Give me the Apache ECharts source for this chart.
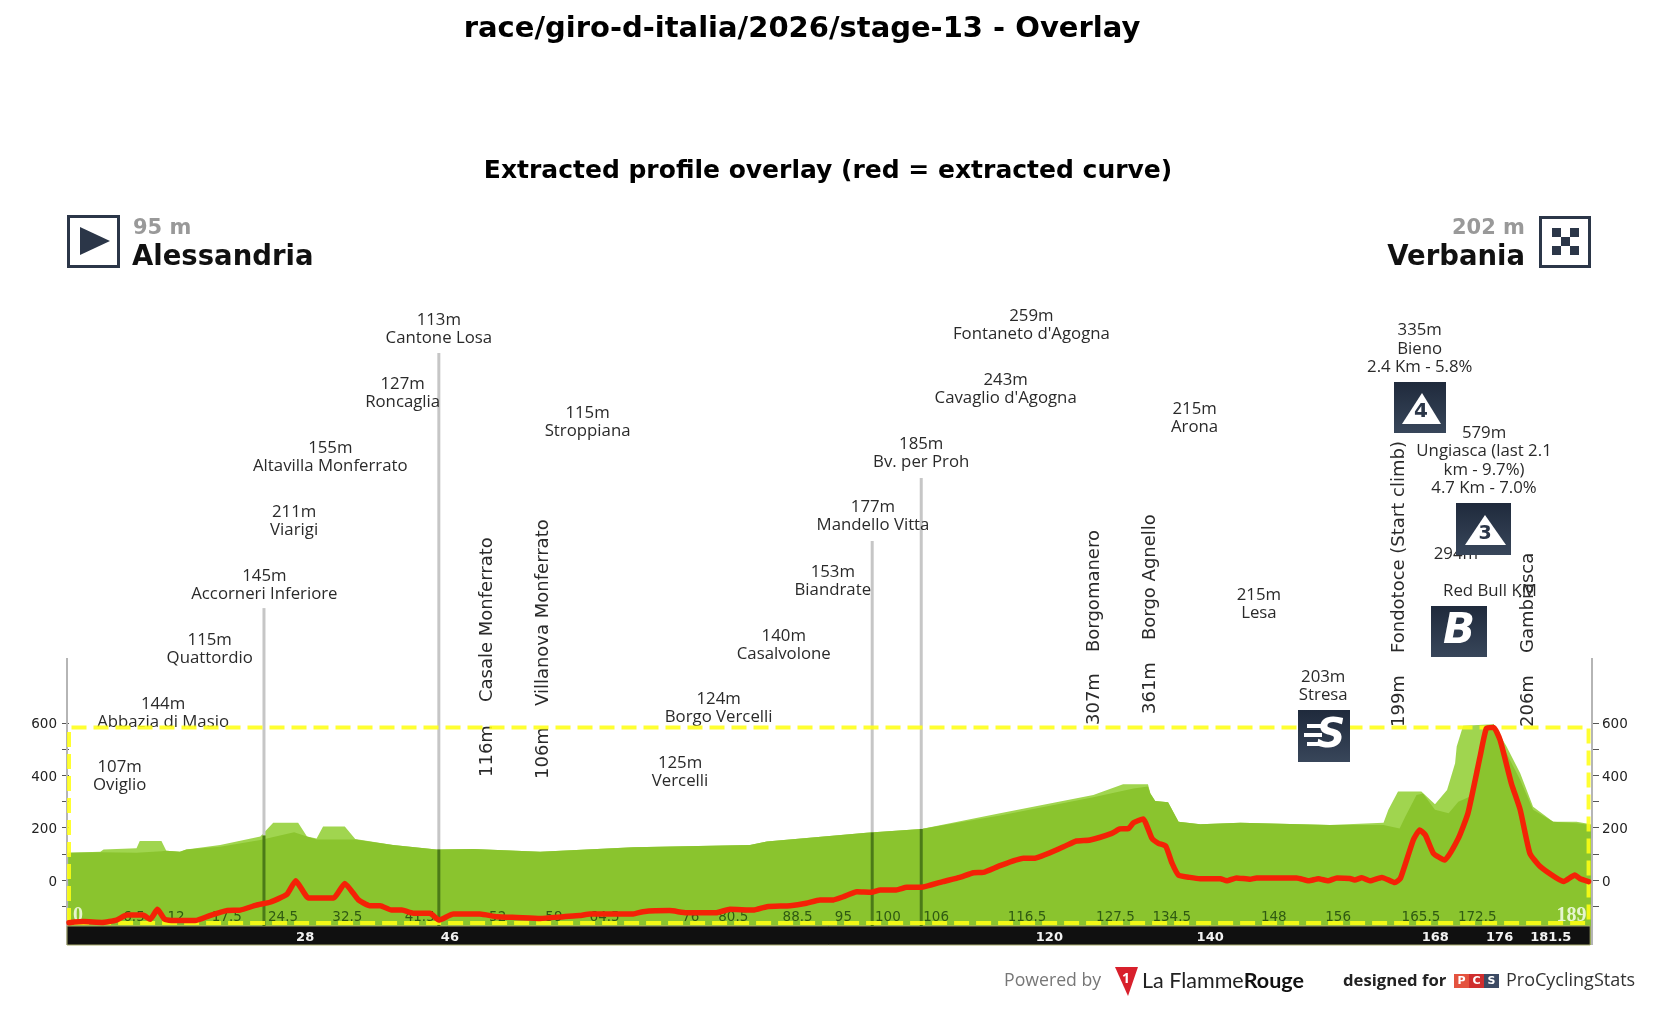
<!DOCTYPE html>
<html>
<head>
<meta charset="utf-8">
<title>Giro d'Italia 2026 stage 13 profile</title>
<style>html,body{margin:0;padding:0;background:#fff}#chart{width:1657px;height:1018px}</style>
<script src="https://cdn.jsdelivr.net/npm/echarts@6/dist/echarts.min.js"></script>
</head>
<body>
<div id="chart"></div>
<script>
// Extracted elevation curve: [km, metres]
const extractedCurve = [
[0,-163],[1.8,-159],[4.1,-162],[5.9,-153],[7.2,-134],[9.2,-134],[10.1,-150],[11,-112],[11.9,-150],[13,-155],
[15.7,-155],[17.5,-136],[19.6,-117],[21.3,-115],[23.3,-96],[25,-85],[27.1,-55],[28.2,-3],[29.8,-69],[32.9,-69],
[34.3,-13],[36,-76],[37.4,-98],[38.7,-98],[40.1,-115],[41.4,-115],[42.8,-127],[44.9,-127],[46,-153],[47.8,-130],
[51.1,-130],[53.2,-140],[55.7,-143],[58.6,-147],[61.5,-140],[63.5,-136],[64.8,-130],[70.2,-130],[71.4,-121],[74.7,-117],
[76.8,-125],[80.5,-125],[82.2,-112],[85.1,-115],[86.8,-102],[89.7,-98],[91.7,-89],[93.4,-76],[95.1,-76],[96.3,-64],
[98,-45],[99.8,-47],[100.9,-38],[102.9,-38],[104.2,-28],[106,-28],[108.7,-6],[110.8,10],[112.5,28],[113.7,29],
[115.8,55],[118.7,83],[120,83],[123.7,127],[125.3,149],[127,153],[129.7,178],[130.7,195],[131.8,197],[132.4,219],
[133.6,233],[134.7,159],[135.5,140],[136.4,130],[137.2,64],[138,19],[139.4,10],[140.7,5],[143.2,5],[144,-3],
[145.2,8],[146.9,3],[147.7,8],[152.7,8],[154.2,-3],[155.4,5],[156.6,-3],[157.7,8],[159.3,6],[159.9,0],
[160.8,9],[161.8,-3],[163.3,10],[164.9,-10],[165.6,6],[167.2,153],[168,191],[168.7,172],[169.7,102],[171.1,76],
[172.8,159],[174,255],[175.5,471],[176.3,580],[177.2,583],[178,535],[179.4,369],[180.5,268],[181.7,102],[183,51],
[185.9,-6],[187.3,19],[187.9,6],[189,-6]
];
// Road elevation with the climbs picked out in the lighter tone: [km, metres]
const climbProfile = [
[-0.1,104],[3.9,108],[4.3,117],[8.4,121],[8.8,149],[11.5,149],[12.1,112],[13.8,108],[14.6,117],[18.8,134],
[23.8,166],[25.4,219],[28.5,219],[29.6,166],[30.8,159],[31.6,204],[34.3,204],[35.6,157],[40.3,134],[45.7,117],
[50.3,118],[58.6,108],[70.2,125],[84.7,134],[86.8,147],[99.2,181],[106,195],[115.8,255],[127.4,325],[131.1,366],
[134.2,366],[134.5,331],[135.1,302],[136.7,297],[138,223],[140.7,213],[145.7,219],[156.8,210],[163.5,219],[164.1,268],
[165.3,338],[168.2,338],[169.9,289],[171.4,344],[172.4,446],[172.6,510],[173.4,589],[177.2,595],[178.8,510],[180.5,408],
[182.1,280],[184.6,223],[187.5,223],[189.3,213]
];
// Road elevation in the main green tone: [km, metres]
const baseProfile = [
[-0.1,104],[3.9,106],[8.4,104],[11.5,110],[12.1,112],[13.8,108],[14.6,117],[18.8,127],[23.8,153],[28,182],
[29.6,166],[30.8,155],[35.6,155],[40.3,134],[45.7,117],[50.3,118],[58.6,108],[70.2,125],[84.7,134],[86.8,147],
[99.2,181],[106,195],[115.8,246],[127.4,316],[132.4,350],[134.2,357],[134.5,331],[135.1,302],[136.7,297],[138,223],
[140.7,213],[145.7,219],[156.8,210],[163.5,210],[165.5,197],[166.2,242],[167.6,325],[168.4,331],[169.9,268],[171.6,255],
[172.8,299],[174.2,318],[175.5,497],[176.3,580],[177.2,595],[178.8,484],[180.5,382],[182.1,268],[184.6,223],[187.5,217],
[189.3,210]
];

// Named places with horizontal labels
const townNames = ['Oviglio','Abbazia di Masio','Quattordio','Accorneri Inferiore','Viarigi','Altavilla Monferrato','Roncaglia','Cantone Losa',
  'Stroppiana','Vercelli','Borgo Vercelli','Casalvolone','Biandrate','Mandello Vitta','Bv. per Proh',"Cavaglio d'Agogna","Fontaneto d'Agogna",
  'Arona','Lesa','Stresa','Bieno\n2.4 Km - 5.8%','Ungiasca (last 2.1\nkm - 9.7%)\n4.7 Km - 7.0%','\nRed Bull KM'];
const townElevations = [107,144,115,145,211,155,127,113,115,125,124,140,153,177,185,243,259,215,215,203,335,579,294];
const townKms = [6.3,11.7,17.5,24.3,28,32.5,41.5,46,64.5,76,80.8,88.9,95,100,106,116.5,119.7,140,148,156,168,176,172.5];

// Named places with rotated labels
const sideNames = ['Casale Monferrato','Villanova Monferrato','Borgomanero','Borgo Agnello','Fondotoce (Start climb)','Gambiasca'];
const sideElevations = [116,106,307,361,199,206];
const sideKms = [52,59,127.5,134.5,165.5,181.5];

// Distance markers
const sectorKms = [6.5,12,17.5,24.5,32.5,41.5,52,59,64.5,76,80.5,88.5,95,100,106,116.5,127.5,134.5,148,156,165.5,172.5];
const bandKms = [28,46,120,140,168,176,181.5];
const endKms = [0,189];

// Vertical stems: km, elevation at the road, elevation of the top end
const stemKms = [24.25,46,99.9,106];
const stemRoad = [170,117,182,195];
const stemTop = [1039,2014,1295,1536];

const yTickLabels = [0,200,400,600];
const yTickMarks = [-100,0,100,200,300,400,500,600];

// Layout of the label stacks, in page pixels (baseline row of each place)
const townLabelRowY = [785,722,658,594,530,466,402,338,431,781,717,654,590,525,462,398,334,427,613,695,367,488,591];
const townNameShiftX = {22:34};
const sideLabelY = [[777,702],[779,706],[725,652],[714,640],[727,653],[727,653]];

const PX_PER_M = 0.2617, PX_PER_KM = 8.04;
const GRID_L = 67, GRID_R = 1592, GROUND_Y = 880, GRID_B = 945;
const xMin = (GRID_L - 69) / PX_PER_KM, xMax = (GRID_R - 69) / PX_PER_KM;
const yMax = GROUND_Y / PX_PER_M, yMin = (GROUND_Y - GRID_B) / PX_PER_M;
const bandTop = (GROUND_Y - 926) / PX_PER_M;
const boxTop = 583, boxBottom = -164;

const NAVY = '#2b3648';
const LABEL_FONT = '16.8px "Open Sans"';
const SIDE_FONT = '18px "DejaVu Sans"';

const chart = echarts.init(document.getElementById('chart'));

function textEl(text, x, y, font, fill, align, rotation) {
  return {type:'text', x, y, rotation: rotation || 0,
    style:{text, x:0, y:0, font, fill, textAlign: align || 'center', textVerticalAlign:'middle'}};
}
function boxGradient() {
  return new echarts.graphic.LinearGradient(0,0,0,1,[{offset:0,color:'#1f2a3c'},{offset:1,color:'#38465a'}]);
}

const option = {
  animation:false,
  backgroundColor:'#ffffff',
  title:[
    {text:'race/giro-d-italia/2026/stage-13 - Overlay', left:797, top:10, textAlign:'center',
     textStyle:{fontFamily:'DejaVu Sans', fontWeight:'bold', fontSize:29, color:'#000'}},
    {text:'Extracted profile overlay (red = extracted curve)', left:823, top:154, textAlign:'center',
     textStyle:{fontFamily:'DejaVu Sans', fontWeight:'bold', fontSize:25, color:'#000'}}
  ],
  grid:{left:GRID_L, top:0, width:GRID_R-GRID_L, height:GRID_B},
  xAxis:{type:'value', min:xMin, max:xMax, show:false},
  yAxis:[0,1].map(i => ({
    type:'value', min:yMin, max:yMax, position:i?'right':'left', splitLine:{show:false},
    axisLine:{show:false},
    axisTick:{show:true, length:7, customValues:yTickMarks, lineStyle:{color:'#555',width:1}},
    axisLabel:{show:true, customValues:yTickLabels, margin:10, formatter:v => '{a|' + v + '}',
      rich:{a:{color:'#222', fontFamily:'DejaVu Sans', fontSize:13.5, padding:[4,0,0,0]}}}
  })),
  series:[
    {type:'line', name:'Climbs', data:climbProfile, showSymbol:false, silent:true, z:1, clip:false,
     lineStyle:{width:0}, areaStyle:{origin:'start', color:'#a0d54f', opacity:1}},
    {type:'line', name:'Road', data:baseProfile, showSymbol:false, silent:true, z:2, clip:false,
     lineStyle:{width:0}, areaStyle:{origin:'start', color:'#8ac42e', opacity:1}},
    // Axis rails on both sides of the profile
    {type:'line', data:[[xMin,(GROUND_Y-658)/PX_PER_M],[xMin,yMin]], showSymbol:false, silent:true, z:3, clip:false,
     lineStyle:{color:'#b5b5b5', width:2}},
    {type:'line', data:[[xMax,(GROUND_Y-658)/PX_PER_M],[xMax,yMin]], showSymbol:false, silent:true, z:3, clip:false,
     lineStyle:{color:'#b5b5b5', width:2}},
    // Black distance band
    {type:'custom', z:4, silent:true, clip:false, data:[[xMin,189.2]],
     renderItem:(p,api)=>{
       const a = api.coord([api.value(0),bandTop]), b = api.coord([api.value(1),yMin]);
       return {type:'rect', shape:{x:a[0],y:a[1],width:b[0]-a[0],height:b[1]-a[1]},
         style:{fill:'#101010', stroke:'#a8ab6c', lineWidth:1}};
     }},
    // Stems at the main places
    {type:'custom', z:5, silent:true, clip:false, data:stemKms.map((k,i)=>[k,i]),
     renderItem:(p,api)=>{
       const i = api.value(1), k = api.value(0);
       const a = api.coord([k,stemTop[i]]), b = api.coord([k,stemRoad[i]]), c = api.coord([k,bandTop]);
       return {type:'group', children:[
         {type:'line', shape:{x1:a[0],y1:a[1],x2:b[0],y2:b[1]}, style:{stroke:'#c6c6c6',lineWidth:3}},
         {type:'line', shape:{x1:b[0],y1:b[1],x2:c[0],y2:c[1]}, style:{stroke:'#4b7a18',lineWidth:3}}
       ]};
     }},
    // Distance labels on the green
    {type:'custom', z:5, silent:true, clip:false, data:sectorKms.map(k=>[k]),
     renderItem:(p,api)=>{
       const k = api.value(0), c = api.coord([k,0]);
       return textEl(String(k), c[0]+2, 917, '13.5px "DejaVu Sans"', '#2f5a12', 'left');
     }},
    // Distance labels in the band, drawn above the band fill
    {type:'custom', z:6, silent:true, clip:false, data:bandKms.map(k=>[k]),
     renderItem:(p,api)=>{
       const k = api.value(0), c = api.coord([k,0]);
       return textEl(String(k), c[0]+2, 938, 'bold 13px "DejaVu Sans"', '#f2f2f2', 'left');
     }},
    {type:'custom', z:5, silent:true, clip:false, data:endKms.map(k=>[k]),
     renderItem:(p,api)=>{
       const k = api.value(0), c = api.coord([k,0]);
       return textEl(String(k), k ? c[0]-2 : c[0]+4, 916, 'bold 20px "Liberation Serif"', '#e6f5cf', k ? 'right' : 'left');
     }},
    // Horizontal place labels
    {type:'custom', z:7, silent:true, clip:false, data:townKms.map((k,i)=>[k,i]),
     renderItem:(p,api)=>{
       const i = api.value(1), c = api.coord([api.value(0),0]);
       const nameLines = townNames[i].split('\n');
       const lines = [townElevations[i]+'m'].concat(nameLines);
       const last = townLabelRowY[i], step = 18.2, shift = townNameShiftX[i] || 0;
       return {type:'group', children:lines.map((t,n)=>
         textEl(t, c[0]+(n?shift:0), last-(lines.length-1-n)*step, LABEL_FONT, '#2a2a2a'))};
     }},
    // Rotated place labels
    {type:'custom', z:7, silent:true, clip:false, data:sideKms.map((k,i)=>[k,i]),
     renderItem:(p,api)=>{
       const i = api.value(1), c = api.coord([api.value(0),0]);
       return {type:'group', children:[
         textEl(sideElevations[i]+'m', c[0], sideLabelY[i][0], SIDE_FONT, '#2a2a2a', 'left', Math.PI/2),
         textEl(sideNames[i], c[0], sideLabelY[i][1], SIDE_FONT, '#2a2a2a', 'left', Math.PI/2)
       ]};
     }},
    // Bounding box of the extracted curve
    {type:'line', name:'Extent', z:8, silent:true, showSymbol:false, clip:false,
     data:[[0,boxBottom],[0,boxTop],[189,boxTop],[189,boxBottom],[0,boxBottom]],
     lineStyle:{color:'rgba(255,255,20,0.88)', width:4, type:[15,7]}},
    {type:'line', name:'Extracted curve', z:9, silent:true, showSymbol:false, clip:false,
     data:extractedCurve, smooth:0.15, lineStyle:{color:'#f42206', width:5.5, cap:'round', join:'round'}}
  ],
  graphic:[
    // Start block
    {type:'rect', z:100, shape:{x:68.5,y:216.5,width:50,height:50}, style:{fill:'#fff',stroke:NAVY,lineWidth:3}},
    {type:'polygon', z:100, shape:{points:[[80,227],[110,241],[80,255]]}, style:{fill:NAVY}},
    {type:'text', z:100, x:133, y:229, style:{text:'95 m', font:'bold 21px "DejaVu Sans"', fill:'#999', textVerticalAlign:'middle'}},
    {type:'text', z:100, x:132, y:258, style:{text:'Alessandria', font:'bold 27.5px "DejaVu Sans"', fill:'#111', textVerticalAlign:'middle'}},
    // Finish block
    {type:'rect', z:100, shape:{x:1540.5,y:217.5,width:49,height:49}, style:{fill:'#fff',stroke:NAVY,lineWidth:3}},
    ...[[0,0],[2,0],[1,1],[0,2],[2,2]].map(c=>({type:'rect', z:100,
      shape:{x:1552+c[0]*9,y:228+c[1]*9,width:9,height:9}, style:{fill:NAVY}})),
    {type:'text', z:100, x:1525, y:229, style:{text:'202 m', font:'bold 21px "DejaVu Sans"', fill:'#999', textAlign:'right', textVerticalAlign:'middle'}},
    {type:'text', z:100, x:1525, y:258, style:{text:'Verbania', font:'bold 27.5px "DejaVu Sans"', fill:'#111', textAlign:'right', textVerticalAlign:'middle'}},
    // Climb category 4
    {type:'rect', z:100, shape:{x:1394,y:382,width:52,height:51}, style:{fill:boxGradient()}},
    {type:'polygon', z:100, shape:{points:[[1422,393],[1441,424],[1402,424]]}, style:{fill:'#fff'}},
    {type:'text', z:100, x:1421, y:412, style:{text:'4', font:'bold 20px "DejaVu Sans"', fill:NAVY, textAlign:'center', textVerticalAlign:'middle'}},
    // Climb category 3
    {type:'rect', z:100, shape:{x:1456,y:503,width:55,height:52}, style:{fill:boxGradient()}},
    {type:'polygon', z:100, shape:{points:[[1485,515],[1506,545],[1465,545]]}, style:{fill:'#fff'}},
    {type:'text', z:100, x:1485, y:534, style:{text:'3', font:'bold 19px "DejaVu Sans"', fill:NAVY, textAlign:'center', textVerticalAlign:'middle'}},
    // Bonus sprint
    {type:'rect', z:100, shape:{x:1431,y:606,width:56,height:51}, style:{fill:boxGradient()}},
    {type:'text', z:100, x:1459, y:632, style:{text:'B', font:'italic bold 42px "DejaVu Sans"', fill:'#fff', textAlign:'center', textVerticalAlign:'middle'}},
    // Intermediate sprint
    {type:'rect', z:100, shape:{x:1298,y:710,width:52,height:52}, style:{fill:boxGradient()}},
    ...[726,735,744].map((y,i)=>({type:'rect', z:100, shape:{x:1304+(i==1?0:3),y:y-2,width:18,height:4}, style:{fill:'#fff'}})),
    {type:'text', z:100, x:1331, y:737, style:{text:'S', font:'italic bold 40px "DejaVu Sans"', fill:'#fff', textAlign:'center', textVerticalAlign:'middle'}},
    // Credits
    {type:'text', z:100, x:1004, y:981, style:{text:'Powered by', font:'17.7px "Open Sans"', fill:'#777', textVerticalAlign:'middle'}},
    {type:'polygon', z:100, shape:{points:[[1115,967],[1138,967],[1128,996]]}, style:{fill:'#d8202c'}},
    {type:'text', z:100, x:1126, y:979, style:{text:'1', font:'bold 14px "Open Sans"', fill:'#fff', textAlign:'center', textVerticalAlign:'middle'}},
    {type:'text', z:100, x:1142, y:981, style:{text:'{a|La Flamme}{b|Rouge}', textVerticalAlign:'middle',
      rich:{a:{font:'21.5px "Lato"', fill:'#222'}, b:{font:'bold 21.5px "Lato"', fill:'#111'}}}},
    {type:'text', z:100, x:1343, y:981, style:{text:'designed for', font:'bold 16.7px "Open Sans"', fill:'#222', textVerticalAlign:'middle'}},
    {type:'rect', z:100, shape:{x:1454,y:974,width:15,height:14}, style:{fill:'#e4533f'}},
    {type:'rect', z:100, shape:{x:1469,y:974,width:15,height:14}, style:{fill:'#cf2e2e'}},
    {type:'rect', z:100, shape:{x:1484,y:974,width:15,height:14}, style:{fill:'#3c4a63'}},
    ...['P','C','S'].map((t,i)=>({type:'text', z:100, x:1461.5+i*15, y:981,
      style:{text:t, font:'bold 11px "DejaVu Sans"', fill:'#fff', textAlign:'center', textVerticalAlign:'middle'}})),
    {type:'text', z:100, x:1506, y:981, style:{text:'ProCyclingStats', font:'18px "Open Sans"', fill:'#333', textVerticalAlign:'middle'}}
  ]
};
chart.setOption(option);
</script>
</body>
</html>
